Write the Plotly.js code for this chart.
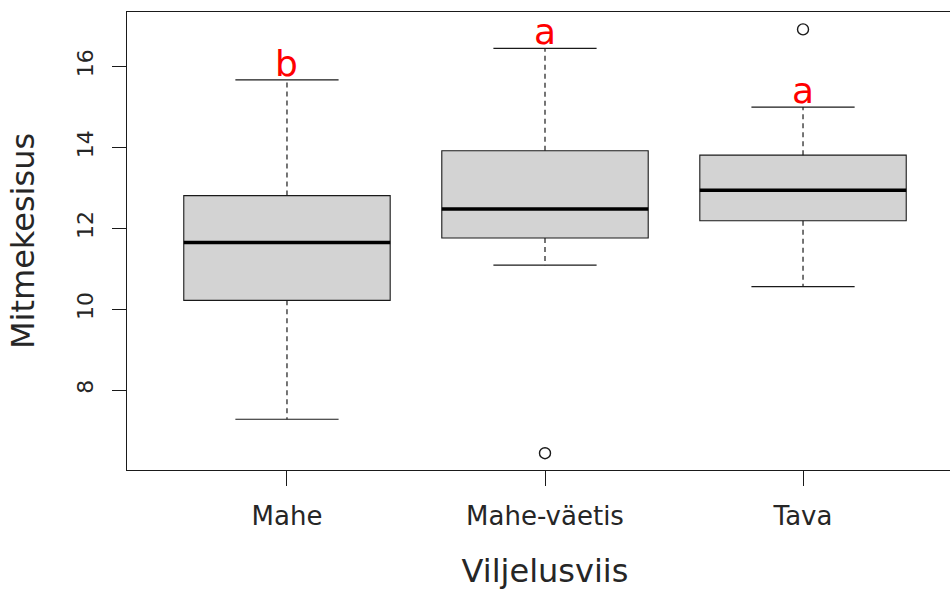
<!DOCTYPE html>
<html><head><meta charset="utf-8">
<script src="https://cdn.plot.ly/plotly-3.0.1.min.js"></script>
<style>html,body{margin:0;padding:0;overflow:hidden;background:#fff}#chart{width:1000px;height:590px}</style>
</head><body><div id="chart"></div><script>
// Data
const categories = ['Mahe', 'Mahe-väetis', 'Tava'];
const lowerWhisker = [7.28, 11.09, 10.56];
const q1 = [10.22, 11.76, 12.19];
const median = [11.65, 12.48, 12.94];
const q3 = [12.81, 13.92, 13.81];
const upperWhisker = [15.67, 16.45, 15.00];
const outlierGroup = ['Mahe-väetis', 'Tava'];
const outlierValue = [6.44, 16.92];
const letters = ['b', 'a', 'a'];
const yTicks = [8, 10, 12, 14, 16];

// Style
const FONT = 'DejaVu Sans, Verdana, sans-serif';
const INK = '#1a1a1a';
const TXT = '#262626';
const pos = categories.map((c, i) => i + 1);
const boxHalf = 0.4, capHalf = 0.2;

const boxes = {
  type: 'box', x: pos, q1: q1, median: median, q3: q3,
  lowerfence: q1, upperfence: q3, width: 2 * boxHalf, whiskerwidth: 0,
  fillcolor: '#d3d3d3', line: {color: INK, width: 1.1}, boxpoints: false,
  hoverinfo: 'skip', showlegend: false
};

const wx = [], wy = [], cx = [], cy = [], mx = [], my = [];
pos.forEach((p, i) => {
  wx.push(p, p, null, p, p, null);
  wy.push(q3[i], upperWhisker[i], null, q1[i], lowerWhisker[i], null);
  cx.push(p - capHalf, p + capHalf, null, p - capHalf, p + capHalf, null);
  cy.push(upperWhisker[i], upperWhisker[i], null, lowerWhisker[i], lowerWhisker[i], null);
  mx.push(p - boxHalf, p + boxHalf, null);
  my.push(median[i], median[i], null);
});

const whiskers = {type: 'scatter', mode: 'lines', x: wx, y: wy, line: {color: INK, width: 1.2, dash: '5px,4px'}, hoverinfo: 'skip', showlegend: false};
const caps = {type: 'scatter', mode: 'lines', x: cx, y: cy, line: {color: INK, width: 1.2}, hoverinfo: 'skip', showlegend: false};
const medians = {type: 'scatter', mode: 'lines', x: mx, y: my, line: {color: '#000', width: 3.5}, hoverinfo: 'skip', showlegend: false};
const outliers = {type: 'scatter', mode: 'markers',
  x: outlierGroup.map(g => categories.indexOf(g) + 1), y: outlierValue,
  marker: {symbol: 'circle-open', size: 11, color: INK, line: {width: 1.4, color: INK}},
  hoverinfo: 'skip', showlegend: false};

const annotations = pos.map((p, i) => ({
  x: p, y: upperWhisker[i], xref: 'x', yref: 'y', text: letters[i], showarrow: false,
  yanchor: 'bottom', xanchor: 'center', yshift: -6,
  font: {family: FONT, size: 36, color: '#ff0000'}
}));

const layout = {
  width: 1000, height: 590,
  margin: {l: 127, r: 37, t: 12, b: 120},
  paper_bgcolor: '#fff', plot_bgcolor: '#fff',
  showlegend: false,
  annotations: annotations,
  xaxis: {
    type: 'linear', range: [0.38, 3.62], tickvals: pos, ticktext: categories,
    showgrid: false, zeroline: false, showline: true, mirror: true,
    linecolor: INK, linewidth: 1, ticks: 'outside', ticklen: 15, tickcolor: INK, tickwidth: 1,
    tickfont: {family: FONT, size: 26, color: TXT}, ticklabelstandoff: 8,
    title: {text: 'Viljelusviis', font: {family: FONT, size: 32, color: TXT}, standoff: 30}
  },
  yaxis: {
    range: [6.025, 17.35], tickvals: yTicks, ticktext: yTicks.map(String),
    showgrid: false, zeroline: false, showline: true, mirror: true,
    linecolor: INK, linewidth: 1, ticks: 'outside', ticklen: 14, tickcolor: INK, tickwidth: 1,
    tickangle: -90, tickfont: {family: FONT, size: 22, color: TXT}, ticklabelstandoff: 10,
    title: {text: 'Mitmekesisus', font: {family: FONT, size: 32, color: TXT}, standoff: 29}
  }
};

Plotly.newPlot('chart', [boxes, whiskers, caps, medians, outliers], layout, {displayModeBar: false, staticPlot: true});
</script></body></html>
